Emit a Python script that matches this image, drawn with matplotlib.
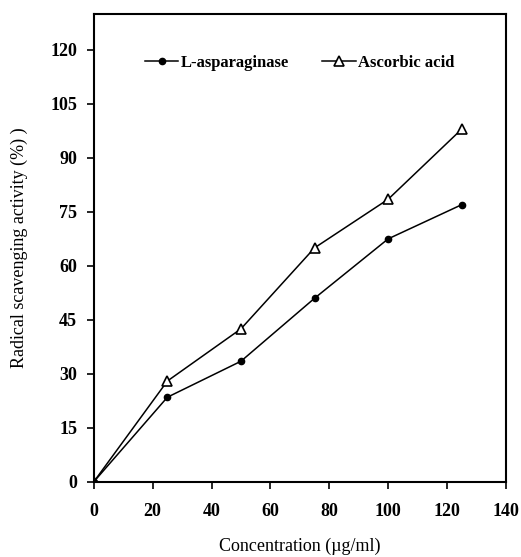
import matplotlib.pyplot as plt

conc = [0, 25, 50, 75, 100, 125]
asparaginase = [0, 23.5, 33.5, 51, 67.5, 77]
ascorbic = [0, 28, 42.5, 65, 78.5, 98]

plt.rcParams['font.family'] = 'Liberation Serif'

fig = plt.figure(figsize=(5.21, 5.57), dpi=100)
ax = fig.add_axes([0.180, 0.135, 0.791, 0.840])

ax.plot(conc, asparaginase, color='black', lw=1.1, marker='o', ms=4.5,
        mfc='black', label='L-asparaginase')
ax.plot(conc, ascorbic, color='black', lw=1.1, marker='^', ms=6.5,
        mfc='white', mew=1.2, label='Ascorbic acid')

ax.set_xlim(0, 140)
ax.set_ylim(0, 130)
ax.set_xticks(range(0, 141, 20))
ax.set_yticks(range(0, 121, 15))
for lab in ax.get_xticklabels() + ax.get_yticklabels():
    lab.set_fontweight('bold')
    lab.set_fontsize(13)
ax.tick_params(direction='out', length=5, width=1.2)
ax.tick_params(axis='x', pad=10)
ax.tick_params(axis='y', pad=7)
for s in ax.spines.values():
    s.set_linewidth(1.5)

ax.set_xlabel('Concentration (µg/ml)', fontsize=13, labelpad=13)
ax.set_ylabel('Radical scavenging activity (%) )', fontsize=13, labelpad=16)

ax.legend(loc='upper center', bbox_to_anchor=(0.5, 0.945), ncol=2, frameon=False,
          handlelength=2.0, handletextpad=0.15, columnspacing=2.0,
          prop={'weight': 'bold', 'size': 12})

fig.savefig('out.png', dpi=100)
